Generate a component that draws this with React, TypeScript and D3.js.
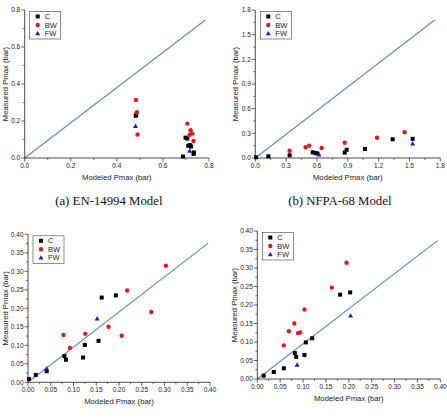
import * as d3 from 'd3';

// modeled vs measured Pmax (bar), one list per series and panel: [modeled, measured]
const enC = [[0.687, 0.008], [0.733, 0.022], [0.734, 0.03], [0.717, 0.07], [0.71, 0.066], [0.722, 0.062], [0.706, 0.105], [0.698, 0.11], [0.482, 0.228], [0.484, 0.233]];
const enBW = [[0.483, 0.314], [0.487, 0.247], [0.49, 0.127], [0.706, 0.186], [0.72, 0.15], [0.728, 0.132], [0.716, 0.126], [0.733, 0.092]];
const enFW = [[0.481, 0.172], [0.716, 0.038]];

const nfpaC = [[0.007, 0.009], [0.127, 0.02], [0.334, 0.033], [0.558, 0.069], [0.584, 0.061], [0.603, 0.055], [0.87, 0.066], [0.889, 0.1], [1.067, 0.11], [1.337, 0.228], [1.531, 0.233]];
const nfpaBW = [[0.334, 0.089], [0.49, 0.13], [0.525, 0.15], [0.646, 0.122], [0.87, 0.186], [1.184, 0.247], [1.453, 0.313]];
const nfpaFW = [[0.62, 0.04], [1.531, 0.174]];

const p3C = [[0.002, 0.009], [0.017, 0.02], [0.041, 0.03], [0.08, 0.071], [0.0835, 0.061], [0.121, 0.067], [0.125, 0.101], [0.155, 0.112], [0.162, 0.229], [0.193, 0.235]];
const p3BW = [[0.078, 0.128], [0.092, 0.093], [0.126, 0.131], [0.177, 0.15], [0.206, 0.126], [0.218, 0.248], [0.271, 0.19], [0.303, 0.315]];
const p3FW = [[0.041, 0.037], [0.152, 0.172]];

const p4C = [[0.014, 0.009], [0.036, 0.019], [0.058, 0.029], [0.082, 0.07], [0.085, 0.06], [0.103, 0.065], [0.106, 0.099], [0.12, 0.11], [0.181, 0.228], [0.203, 0.234]];
const p4BW = [[0.058, 0.091], [0.069, 0.129], [0.081, 0.15], [0.089, 0.124], [0.094, 0.126], [0.103, 0.188], [0.163, 0.247], [0.195, 0.314]];
const p4FW = [[0.087, 0.038], [0.204, 0.171]];

// fitted reference lines
const enLine = [[0, 0], [0.784, 0.746]];
const nfpaLine = [[0, 0], [1.745, 1.678]];
const p3Line = [[0, 0], [0.396, 0.376]];
const p4Line = [[0, 0], [0.394, 0.374]];

const ticksA = [0, 0.2, 0.4, 0.6, 0.8];
const ticksB = [0, 0.3, 0.6, 0.9, 1.2, 1.5, 1.8];
const ticksC = [0, 0.05, 0.1, 0.15, 0.2, 0.25, 0.3, 0.35, 0.4];

const legendNames = ['C', 'BW', 'FW'];
const colors = { C: '#000000', BW: '#e3191c', FW: '#1c1cc8' };
const lineColor = '#5b8bc2';
const sans = 'Arial, "Liberation Sans", sans-serif';

type Pt = number[];

function Marker({ kind, x, y }: { kind: string; x: number; y: number }) {
  if (kind === 'C') return <rect x={x - 2} y={y - 2} width={4} height={4} fill={colors.C} />;
  if (kind === 'BW') return <circle cx={x} cy={y} r={2.2} fill={colors.BW} />;
  return <path d={`M${x},${y - 2.6}L${x + 2.5},${y + 1.8}L${x - 2.5},${y + 1.8}Z`} fill={colors.FW} />;
}

function Panel(props: {
  left: number; top: number; width: number; height: number;
  ticks: number[]; fmt: string; c: Pt[]; bw: Pt[]; fw: Pt[]; line: Pt[];
  yTitleGap: number; caption?: string;
}) {
  const { left, top, width, height, ticks, fmt, c, bw, fw, line, yTitleGap, caption } = props;
  const max = ticks[ticks.length - 1];
  const x = d3.scaleLinear().domain([0, max]).range([left, left + width]);
  const y = d3.scaleLinear().domain([0, max]).range([top + height, top]);
  const f = d3.format(fmt);
  const step = ticks[1] - ticks[0];
  const minor = ticks.slice(0, -1).map(t => t + step / 2);
  const bottom = top + height;
  const path = d3.line<Pt>().x(d => x(d[0])).y(d => y(d[1]))(line) || '';
  const cx = left + width / 2;
  const cy = top + height / 2;

  return (
    <g>
      {/* reference line */}
      <path d={path} fill="none" stroke={lineColor} strokeWidth={1.1} />

      {/* axes */}
      <line x1={left} x2={left + width} y1={bottom} y2={bottom} stroke="#222" strokeWidth={0.8} />
      <line x1={left} x2={left} y1={top} y2={bottom} stroke="#222" strokeWidth={0.8} />
      {ticks.map(t => (
        <g key={'t' + t}>
          <line x1={x(t)} x2={x(t)} y1={bottom} y2={bottom + 3.5} stroke="#222" strokeWidth={0.7} />
          <line x1={left} x2={left - 3.5} y1={y(t)} y2={y(t)} stroke="#222" strokeWidth={0.7} />
          <text x={x(t)} y={bottom + 10} fontSize={6.5} textAnchor="middle" fill="#222" fontFamily={sans}>{f(t)}</text>
          <text x={left - 4.5} y={y(t) + 2.3} fontSize={6.5} textAnchor="end" fill="#222" fontFamily={sans}>{f(t)}</text>
        </g>
      ))}
      {minor.map(t => (
        <g key={'m' + t}>
          <line x1={x(t)} x2={x(t)} y1={bottom} y2={bottom + 2} stroke="#222" strokeWidth={0.6} />
          <line x1={left} x2={left - 2} y1={y(t)} y2={y(t)} stroke="#222" strokeWidth={0.6} />
        </g>
      ))}

      <text x={cx} y={bottom + 22} fontSize={7.7} textAnchor="middle" fill="#222" fontFamily={sans}>Modeled Pmax (bar)</text>
      <text transform={`translate(${left - yTitleGap},${cy}) rotate(-90)`} fontSize={7.7} textAnchor="middle" fill="#222" fontFamily={sans}>Measured Pmax (bar)</text>

      {/* data points */}
      {c.map((d, i) => <Marker key={'c' + i} kind="C" x={x(d[0])} y={y(d[1])} />)}
      {bw.map((d, i) => <Marker key={'b' + i} kind="BW" x={x(d[0])} y={y(d[1])} />)}
      {fw.map((d, i) => <Marker key={'f' + i} kind="FW" x={x(d[0])} y={y(d[1])} />)}

      {/* legend */}
      <g transform={`translate(${left + 5},${top + 1.5})`}>
        <rect width={31} height={27.5} fill="white" stroke="#444" strokeWidth={0.6} />
        {legendNames.map((n, i) => (
          <g key={n} transform={`translate(0,${5 + i * 8.5})`}>
            <Marker kind={n} x={8} y={0} />
            <text x={15} y={2.6} fontSize={7.5} fill="#222" fontFamily={sans}>{n}</text>
          </g>
        ))}
      </g>

      {caption && (
        <text x={cx - 8} y={bottom + 47} fontSize={12.8} textAnchor="middle" fill="#111" fontFamily='"Liberation Serif", "Times New Roman", serif'>{caption}</text>
      )}
    </g>
  );
}

export default function App() {
  return (
    <svg width={447} height={418} style={{ position: 'absolute', left: 0, top: 0, background: 'white' }}>
      <Panel left={24.7} top={10} width={184.3} height={148} ticks={ticksA} fmt=".1f"
        c={enC} bw={enBW} fw={enFW} line={enLine} yTitleGap={16.5} caption="(a) EN-14994 Model" />
      <Panel left={255.3} top={10} width={185} height={148} ticks={ticksB} fmt=".1f"
        c={nfpaC} bw={nfpaBW} fw={nfpaFW} line={nfpaLine} yTitleGap={17} caption="(b) NFPA-68 Model" />
      <Panel left={28} top={234.3} width={182} height={148} ticks={ticksC} fmt=".2f"
        c={p3C} bw={p3BW} fw={p3FW} line={p3Line} yTitleGap={20} />
      <Panel left={257.3} top={231} width={183} height={148} ticks={ticksC} fmt=".2f"
        c={p4C} bw={p4BW} fw={p4FW} line={p4Line} yTitleGap={20.5} />
    </svg>
  );
}
